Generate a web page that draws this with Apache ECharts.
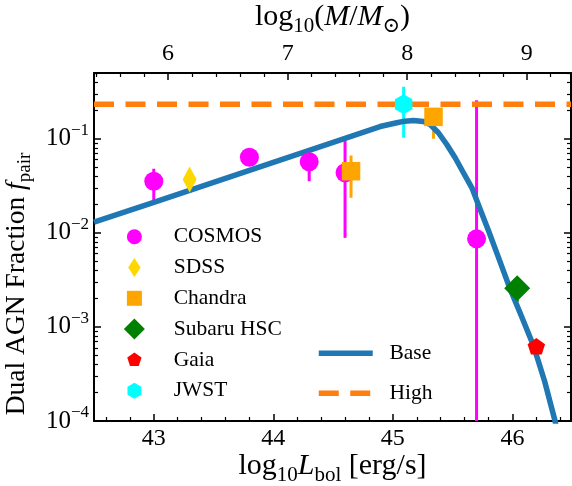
<!DOCTYPE html>
<html>
<head>
<meta charset="utf-8">
<script src="https://cdn.jsdelivr.net/npm/echarts@6/dist/echarts.min.js"></script>
<style>
  html, body { margin: 0; padding: 0; background: #fff; }
  #chart { width: 572px; height: 486px; }
</style>
</head>
<body>
<div id="chart"></div>
<script>
const SERIF = '"Liberation Serif", "DejaVu Serif", serif';

// axis ranges and tick labels
const lumRange = [42.5, 46.49];          // log10 Lbol
const massOffset = 37.12;                // log10 M = log10 Lbol - offset
const fracRange = [1e-4, 0.5];
const lumTicks = [43, 44, 45, 46];
const massTicks = [6, 7, 8, 9];

// observed pair fractions: [log10 Lbol, f_pair]
const cosmosPts  = [[43.0, 0.0354], [43.8, 0.0637], [44.3, 0.0569], [44.6, 0.0435], [45.7, 0.00863]];
const sdssPts    = [[43.3, 0.0369]];
const chandraPts = [[44.65, 0.0452], [45.34, 0.171]];
const subaruPts  = [[46.04, 0.00258]];
const gaiaPts    = [[46.2, 0.000622]];
const jwstPts    = [[45.09, 0.232]];

// error bars: [log10 Lbol, lower, upper]
const cosmosErr  = [[43.0, 0.0205, 0.048], [43.8, 0.054, 0.074], [44.3, 0.0354, 0.066], [44.6, 0.00885, 0.096], [45.7, 0.00001, 0.257]];
const chandraErr = [[44.65, 0.0236, 0.0664], [45.34, 0.100, 0.200]];
const subaruErr  = [[46.04, 0.00185, 0.0031]];
const jwstErr    = [[45.09, 0.1026, 0.357]];

// model curves
const baseL = [42.5, 43.0, 43.5, 44.0, 44.5, 44.893, 45.033, 45.10, 45.172, 45.256, 45.312, 45.381, 45.451, 45.521, 45.59, 45.661, 45.73, 45.80, 45.88, 45.977, 46.08, 46.178, 46.27, 46.354, 46.42];
const baseF = [0.0130, 0.0211, 0.0344, 0.0561, 0.0914, 0.1349, 0.1479, 0.1538, 0.1567, 0.1528, 0.1419, 0.1159, 0.0869, 0.0628, 0.0435, 0.0301, 0.0178, 0.0105, 0.00562, 0.00260, 0.00126, 0.000622, 0.000263, 0.000103, 0.0000447];
const highL = [42.5, 46.49];
const highF = [0.232, 0.232];

const COLORS = {
  cosmos: '#ff00ff', sdss: '#ffd700', chandra: '#ffa500', subaru: '#008000',
  gaia: '#ff0000', jwst: '#00ffff', base: '#1f77b4', high: '#ff7f0e'
};

// minor tick helpers
function stepTicks(lo, hi, step) {
  const out = [];
  const start = Math.ceil(lo / step - 1e-9);
  const end = Math.floor(hi / step + 1e-9);
  for (let i = start; i <= end; i++) {
    const v = +(i * step).toFixed(6);
    if (Math.abs(v - Math.round(v)) > 1e-6) out.push(v);
  }
  return out;
}
function logMinors(lo, hi) {
  const out = [];
  for (let d = Math.floor(Math.log10(lo)); d <= Math.ceil(Math.log10(hi)); d++) {
    for (let k = 2; k <= 9; k++) {
      const v = k * Math.pow(10, d);
      if (v >= lo && v <= hi) out.push(Math.log10(v));
    }
  }
  return out;
}

const massRange = [lumRange[0] - massOffset, lumRange[1] - massOffset];
const lumMinor = stepTicks(lumRange[0], lumRange[1], 0.2);
const massMinor = stepTicks(massRange[0], massRange[1], 0.2);
const fracMinor = logMinors(fracRange[0], fracRange[1]);
const logFrac = [Math.log10(fracRange[0]), Math.log10(fracRange[1])];

const AXIS_LINE = { show: true, onZero: false, lineStyle: { color: '#000', width: 2 } };
const MAJOR_TICK = { show: true, inside: true, length: 7, lineStyle: { color: '#000', width: 1.5 } };
const MINOR_TICK = { show: true, inside: true, length: 4, lineStyle: { color: '#000', width: 1.2 } };
const TICK_FONT = { fontFamily: SERIF, fontSize: 24, color: '#000' };

// marker shapes
const PENTAGON = 'path://M0,-1L0.951,-0.309L0.588,0.809L-0.588,0.809L-0.951,-0.309Z';
const HEXAGON = 'path://M0,-1L0.866,-0.5L0.866,0.5L0,1L-0.866,0.5L-0.866,-0.5Z';
// legend icons drawn inside a fixed 26x26 frame so their relative sizes are kept
const FRAME = 'M-13,-13M13,13';
const ICON = {
  circle:   'path://' + FRAME + 'M-7.5,0A7.5,7.5 0 1,0 7.5,0A7.5,7.5 0 1,0 -7.5,0Z',
  thinDia:  'path://' + FRAME + 'M0,-9.5L6.2,0L0,9.5L-6.2,0Z',
  square:   'path://' + FRAME + 'M-7.5,-7.5L7.5,-7.5L7.5,7.5L-7.5,7.5Z',
  diamond:  'path://' + FRAME + 'M0,-10.5L10.5,0L0,10.5L-10.5,0Z',
  pentagon: 'path://' + FRAME + 'M0,-7.5L7.13,-2.32L4.41,6.07L-4.41,6.07L-7.13,-2.32Z',
  hexagon:  'path://' + FRAME + 'M0,-8L6.93,-4L6.93,4L0,8L-6.93,4L-6.93,-4Z'
};

function errorSeries(name, data, color) {
  return {
    type: 'custom', name: name, data: data, z: 2, clip: true,
    xAxisIndex: 0, yAxisIndex: 0,
    encode: { x: 0, y: [1, 2] },
    renderItem: function (params, api) {
      const p1 = api.coord([api.value(0), api.value(1)]);
      const p2 = api.coord([api.value(0), api.value(2)]);
      return {
        type: 'line',
        shape: { x1: p1[0], y1: p1[1], x2: p2[0], y2: p2[1] },
        style: { stroke: color, lineWidth: 3 }
      };
    }
  };
}
function pointSeries(name, data, color, symbol, size) {
  return {
    type: 'scatter', name: name, data: data, z: 4,
    xAxisIndex: 0, yAxisIndex: 0,
    symbol: symbol, symbolSize: size,
    itemStyle: { color: color, opacity: 1 }
  };
}

const sub = (size, drop) => ({ fontFamily: SERIF, fontSize: size, lineHeight: size, padding: [drop, 0, 0, 0], color: '#000' });
const sup = (size, rise) => ({ fontFamily: SERIF, fontSize: size, lineHeight: size, padding: [0, 0, rise, 0], color: '#000' });
const ital = (size) => ({ fontFamily: SERIF, fontSize: size, fontStyle: 'italic', color: '#000' });

const chart = echarts.init(document.getElementById('chart'), null, { renderer: 'canvas' });

chart.setOption({
  animation: false,
  backgroundColor: '#fff',
  grid: { left: 94, right: 1, top: 73, bottom: 65, containLabel: false, outerBoundsMode: 'none' },
  xAxis: [
    {
      type: 'value', position: 'bottom', min: lumRange[0], max: lumRange[1],
      axisLine: AXIS_LINE, splitLine: { show: false },
      axisTick: Object.assign({ customValues: lumTicks }, MAJOR_TICK),
      axisLabel: Object.assign({ customValues: lumTicks, margin: 6 }, TICK_FONT),
      name: 'log{s|10}{i|L}{s|bol} [erg/s]',
      nameLocation: 'middle', nameGap: 29, nameMoveOverlap: false,
      nameTextStyle: {
        fontFamily: SERIF, fontSize: 30, lineHeight: 32, color: '#000',
        rich: { s: sub(21, 18), i: ital(30) }
      }
    },
    {
      type: 'value', position: 'bottom', min: lumRange[0], max: lumRange[1],
      axisLine: { show: false }, splitLine: { show: false }, axisLabel: { show: false },
      axisTick: Object.assign({ customValues: lumMinor }, MINOR_TICK)
    },
    {
      type: 'value', position: 'top', min: massRange[0], max: massRange[1],
      axisLine: AXIS_LINE, splitLine: { show: false },
      axisTick: Object.assign({ customValues: massTicks }, MAJOR_TICK),
      axisLabel: Object.assign({ customValues: massTicks, margin: 7 }, TICK_FONT),
      name: 'log{s|10}({i|M}/{i|M}{s|⊙})',
      nameLocation: 'middle', nameGap: 37,
      nameTextStyle: {
        fontFamily: SERIF, fontSize: 30, lineHeight: 32, color: '#000',
        rich: { s: sub(21, 18), i: ital(30) }
      }
    },
    {
      type: 'value', position: 'top', min: massRange[0], max: massRange[1],
      axisLine: { show: false }, splitLine: { show: false }, axisLabel: { show: false },
      axisTick: Object.assign({ customValues: massMinor }, MINOR_TICK)
    }
  ],
  yAxis: [
    {
      type: 'log', logBase: 10, position: 'left', min: fracRange[0], max: fracRange[1],
      axisLine: AXIS_LINE, splitLine: { show: false },
      axisTick: MAJOR_TICK,
      axisLabel: {
        margin: 5,
        formatter: function (v) {
          const e = Math.log10(v);
          if (Math.abs(e - Math.round(e)) > 1e-6) return '';
          return '{b|10}{e|\u2212' + (-Math.round(e)) + '}';
        },
        rich: {
          b: { fontFamily: SERIF, fontSize: 25, lineHeight: 25, color: '#000' },
          e: sup(17, 17)
        }
      },
      name: 'Dual AGN Fraction {i|f}{s|pair}',
      nameLocation: 'middle', nameGap: 53, nameRotate: 90,
      nameTextStyle: {
        fontFamily: SERIF, fontSize: 27.5, lineHeight: 30, color: '#000',
        padding: [0, 74, 0, 0],
        rich: { s: sub(19, 17), i: ital(27.5) }
      }
    },
    {
      type: 'value', position: 'left', min: logFrac[0], max: logFrac[1],
      axisLine: { show: false }, splitLine: { show: false }, axisLabel: { show: false },
      axisTick: Object.assign({ customValues: fracMinor }, MINOR_TICK)
    },
    {
      type: 'log', logBase: 10, position: 'right', min: fracRange[0], max: fracRange[1],
      axisLine: AXIS_LINE, splitLine: { show: false },
      axisTick: MAJOR_TICK, axisLabel: { show: false }
    },
    {
      type: 'value', position: 'right', min: logFrac[0], max: logFrac[1],
      axisLine: { show: false }, splitLine: { show: false }, axisLabel: { show: false },
      axisTick: Object.assign({ customValues: fracMinor }, MINOR_TICK)
    }
  ],
  legend: [
    {
      orient: 'vertical', left: 121.4, top: 223.7, padding: 0,
      itemWidth: 68.6, itemHeight: 26, itemGap: 4.8,
      selectedMode: false,
      textStyle: { fontFamily: SERIF, fontSize: 21.5, lineHeight: 26, color: '#000' },
      data: [
        { name: 'COSMOS', icon: ICON.circle },
        { name: 'SDSS', icon: ICON.thinDia },
        { name: 'Chandra', icon: ICON.square },
        { name: 'Subaru HSC', icon: ICON.diamond },
        { name: 'Gaia', icon: ICON.pentagon },
        { name: 'JWST', icon: ICON.hexagon }
      ]
    },
    {
      orient: 'vertical', left: 316, top: 340.3, padding: 0,
      itemWidth: 54, itemHeight: 26, itemGap: 14,
      selectedMode: false,
      lineStyle: { width: 5.5 },
      textStyle: { fontFamily: SERIF, fontSize: 21.5, lineHeight: 26, color: '#000', padding: [0, 0, 0, 11.7] },
      data: [
        { name: 'Base', itemStyle: { color: 'rgba(0,0,0,0)', borderWidth: 0 } },
        { name: 'High', itemStyle: { color: 'rgba(0,0,0,0)', borderWidth: 0 } }
      ]
    }
  ],
  series: [
    errorSeries('COSMOS err', cosmosErr, COLORS.cosmos),
    errorSeries('Chandra err', chandraErr, COLORS.chandra),
    errorSeries('Subaru err', subaruErr, COLORS.subaru),
    errorSeries('JWST err', jwstErr, COLORS.jwst),
    {
      type: 'line', name: 'High', z: 3, xAxisIndex: 0, yAxisIndex: 0,
      data: highL.map((x, i) => [x, highF[i]]),
      symbol: 'none', showSymbol: false,
      lineStyle: { color: COLORS.high, width: 5.5, type: [20, 11.5], cap: 'butt' },
      itemStyle: { color: COLORS.high }
    },
    {
      type: 'line', name: 'Base', z: 3, xAxisIndex: 0, yAxisIndex: 0,
      data: baseL.map((x, i) => [x, baseF[i]]),
      symbol: 'none', showSymbol: false, smooth: false,
      lineStyle: { color: COLORS.base, width: 5.5, join: 'round' },
      itemStyle: { color: COLORS.base }
    },
    pointSeries('COSMOS', cosmosPts, COLORS.cosmos, 'circle', 19),
    pointSeries('SDSS', sdssPts, COLORS.sdss, 'diamond', [14, 26]),
    pointSeries('Chandra', chandraPts, COLORS.chandra, 'rect', 18.5),
    pointSeries('Subaru HSC', subaruPts, COLORS.subaru, 'diamond', 26),
    pointSeries('Gaia', gaiaPts, COLORS.gaia, PENTAGON, [17.5, 16.6]),
    pointSeries('JWST', jwstPts, COLORS.jwst, HEXAGON, [17.5, 20])
  ]
});
</script>
</body>
</html>
